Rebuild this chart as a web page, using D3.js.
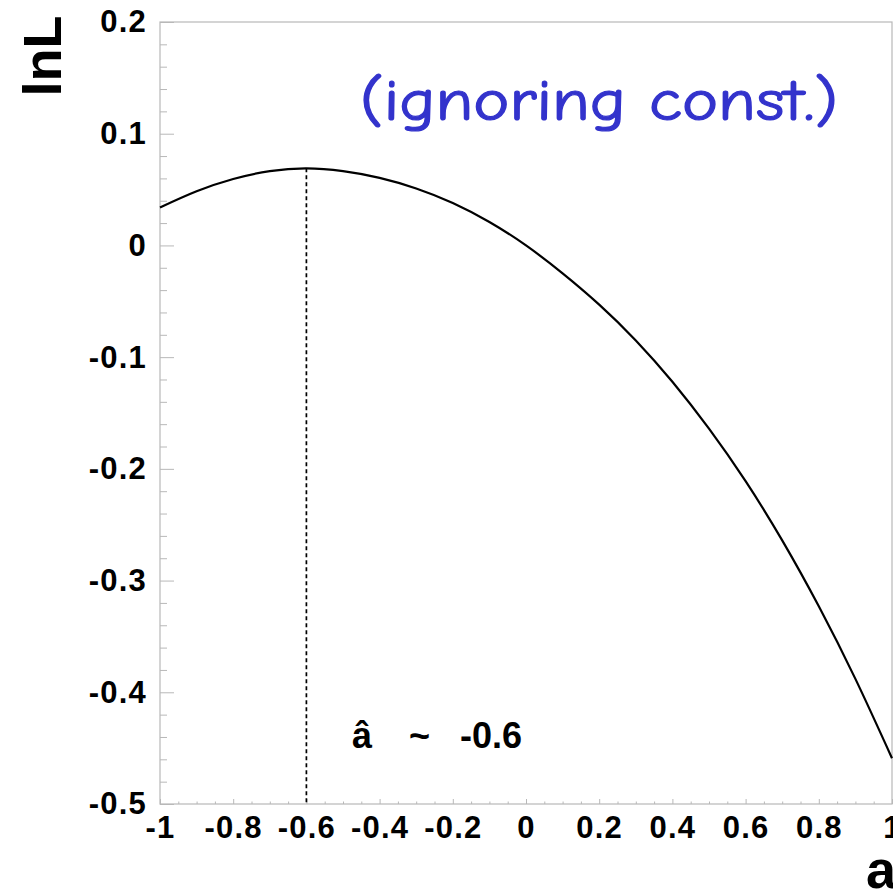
<!DOCTYPE html>
<html>
<head>
<meta charset="utf-8">
<script src="https://cdn.jsdelivr.net/npm/d3@7"></script>
<style>
  body { margin: 0; background: #fff; }
  svg { display: block; }
</style>
</head>
<body>
<div id="chart"></div>
<script>
// curve, a from -1 to 1 in steps of 0.1
const aValues = [-1.0, -0.9, -0.8, -0.7, -0.6, -0.5, -0.4, -0.3, -0.2, -0.1,
                 0.0, 0.1, 0.2, 0.3, 0.4, 0.5, 0.6, 0.7, 0.8, 0.9, 1.0];
const lnLValues = [0.034, 0.0485, 0.0595, 0.0665, 0.069, 0.0665, 0.0605, 0.051, 0.038, 0.021,
                   0.000, -0.025, -0.053, -0.085, -0.122, -0.164, -0.211, -0.264, -0.323, -0.388, -0.459];
const xTicks = [-1, -0.8, -0.6, -0.4, -0.2, 0, 0.2, 0.4, 0.6, 0.8, 1];
const yTicks = [-0.5, -0.4, -0.3, -0.2, -0.1, 0, 0.1, 0.2];
const aHat = -0.6;

const svgWidth = 893;
const svgHeight = 890;
const margin = { top: 22, right: 1, bottom: 86, left: 160 };
const width = svgWidth - margin.left - margin.right;
const height = svgHeight - margin.top - margin.bottom;

const svg = d3.select("#chart")
    .append("svg")
    .attr("width", svgWidth)
    .attr("height", svgHeight);

const g = svg.append("g")
    .attr("transform", `translate(${margin.left},${margin.top})`);

const x = d3.scaleLinear().domain([-1, 1]).range([0, width]);
const y = d3.scaleLinear().domain([-0.5, 0.2]).range([height, 0]);

const fmt = d => String(+d.toFixed(2));
const frameColor = "#b8b8b8";
const labelFont = "'Liberation Sans', Arial, Helvetica, sans-serif";

// frame
g.append("rect")
    .attr("width", width)
    .attr("height", height)
    .attr("fill", "none")
    .attr("stroke", frameColor)
    .attr("stroke-width", 1.2);

// minor ticks
const xMinor = d3.range(-1, 1.0001, 0.05).filter(v => Math.abs(v * 5 - Math.round(v * 5)) > 1e-6);
const yMinor = d3.range(-0.5, 0.2001, 0.02).filter(v => Math.abs(v * 10 - Math.round(v * 10)) > 1e-6);

g.append("g")
    .attr("transform", `translate(0,${height})`)
    .call(d3.axisBottom(x).tickValues(xMinor).tickSize(-2.5).tickFormat(""))
    .call(a => a.select(".domain").remove())
    .selectAll("line").attr("stroke", frameColor);

g.append("g")
    .call(d3.axisLeft(y).tickValues(yMinor).tickSize(-7).tickFormat(""))
    .call(a => a.select(".domain").remove())
    .selectAll("line").attr("stroke", frameColor);

// major ticks and labels
const xAxis = g.append("g")
    .attr("transform", `translate(0,${height})`)
    .call(d3.axisBottom(x).tickValues(xTicks).tickSize(-5).tickPadding(12).tickFormat(fmt));
xAxis.select(".domain").remove();
xAxis.selectAll("line").attr("stroke", frameColor);
xAxis.selectAll("text")
    .attr("font-family", labelFont)
    .attr("font-weight", "bold")
    .attr("font-size", "31px")
    .attr("letter-spacing", "1.2px")
    .attr("fill", "#000");

const yAxis = g.append("g")
    .call(d3.axisLeft(y).tickValues(yTicks).tickSize(-14).tickPadding(13).tickFormat(fmt));
yAxis.select(".domain").remove();
yAxis.selectAll("line").attr("stroke", frameColor);
yAxis.selectAll("text")
    .attr("font-family", labelFont)
    .attr("font-weight", "bold")
    .attr("font-size", "31px")
    .attr("letter-spacing", "1.2px")
    .attr("fill", "#000");

// dashed line at the maximum
const peak = lnLValues[aValues.indexOf(aHat)];
g.append("line")
    .attr("x1", x(aHat))
    .attr("x2", x(aHat))
    .attr("y1", y(peak))
    .attr("y2", y(-0.5))
    .attr("stroke", "#000")
    .attr("stroke-width", 1.7)
    .attr("stroke-dasharray", "4,3");

// the curve
const points = aValues.map((a, i) => [a, lnLValues[i]]);
const line = d3.line()
    .x(d => x(d[0]))
    .y(d => y(d[1]))
    .curve(d3.curveNatural);

g.append("path")
    .datum(points)
    .attr("fill", "none")
    .attr("stroke", "#000")
    .attr("stroke-width", 2.2)
    .attr("d", line);

// annotation for the estimate
const ann = g.append("text")
    .attr("y", 726)
    .attr("font-family", labelFont)
    .attr("font-weight", "bold")
    .attr("font-size", "36px")
    .attr("fill", "#000");
ann.append("tspan").attr("x", 192).text("â");
ann.append("tspan").attr("x", 249).text("~");
ann.append("tspan").attr("x", 300).text("-0.6");

// axis titles
svg.append("text")
    .attr("transform", "translate(61,56) rotate(-90)")
    .attr("text-anchor", "middle")
    .attr("font-family", labelFont)
    .attr("font-weight", "bold")
    .attr("font-size", "54px")
    .text("lnL");

svg.append("text")
    .attr("x", 866)
    .attr("y", 888)
    .attr("font-family", labelFont)
    .attr("font-weight", "bold")
    .attr("font-size", "54px")
    .text("a");

// note in the corner
svg.append("text")
    .attr("x", 360)
    .attr("y", 120)
    .attr("font-family", "'Comic Sans MS', 'Comic Neue', 'Open Sans', sans-serif")
    .attr("font-size", "58px")
    .attr("fill", "#3333cc")
    .attr("stroke", "#3333cc")
    .attr("stroke-width", 1.2)
    .attr("textLength", 478)
    .attr("lengthAdjust", "spacingAndGlyphs")
    .text("(ignoring const.)");
</script>
</body>
</html>
